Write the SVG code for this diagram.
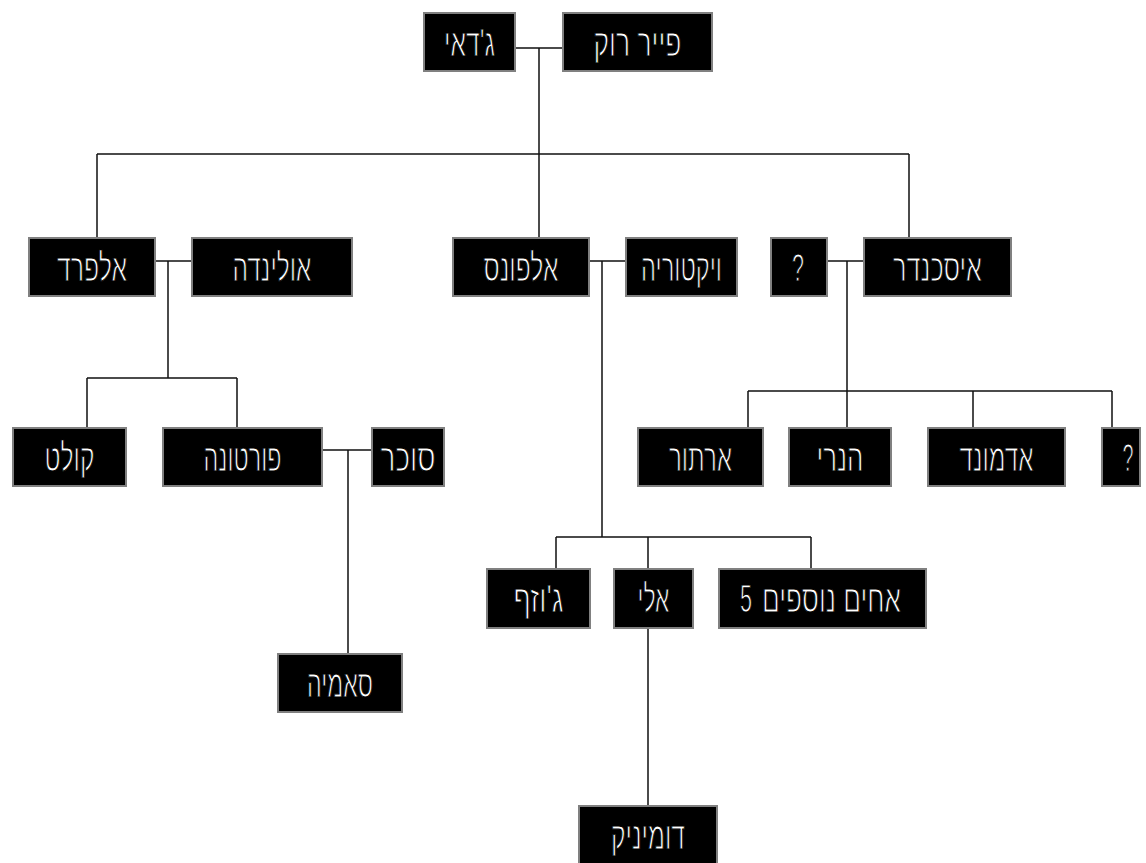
<svg xmlns="http://www.w3.org/2000/svg" width="1146" height="863" viewBox="0 0 1146 863">
<style>
.box{fill:#000;stroke:#808080;stroke-width:2}
.lbl{fill:#fff;stroke:#000;stroke-width:1.1;font-family:"Liberation Sans",sans-serif;font-size:38px;font-weight:normal;text-anchor:middle}
.ln{fill:none;stroke:#111;stroke-width:1.5}
</style>
<rect width="1146" height="863" fill="#fff"/>
<g id="connectors">
<path class="ln" d="M516,48H562M539,48V154M97,154H909M97,154V237M539,154V237M909,154V237"/>
<path class="ln" d="M156,261H191M168,261V378M87,378H237M87,378V427M237,378V427"/>
<path class="ln" d="M590,261H625M602,261V537M556,537H811M556,537V568M648,537V568M811,537V568M648,629V805"/>
<path class="ln" d="M828,261H863M847,261V427M748,391H1112M748,391V427M973,391V427M1112,391V427"/>
<path class="ln" d="M323,450H371M348,450V653"/>
</g>
<g id="n-gedai"><rect class="box" x="424" y="13" width="91" height="58"/><text class="lbl" x="469.5" y="56" textLength="51" lengthAdjust="spacingAndGlyphs">ג'דאי</text></g>
<g id="n-pierre"><rect class="box" x="563" y="13" width="149" height="58"/><text class="lbl" x="637.5" y="56" textLength="88" lengthAdjust="spacingAndGlyphs">פייר רוק</text></g>
<g id="n-alfred"><rect class="box" x="29" y="238" width="126" height="58"/><text class="lbl" x="92" y="281" textLength="70" lengthAdjust="spacingAndGlyphs">אלפרד</text></g>
<g id="n-olinda"><rect class="box" x="192" y="238" width="160" height="58"/><text class="lbl" x="272" y="281" textLength="79" lengthAdjust="spacingAndGlyphs">אולינדה</text></g>
<g id="n-alfons"><rect class="box" x="453" y="238" width="136" height="58"/><text class="lbl" x="521" y="281" textLength="75" lengthAdjust="spacingAndGlyphs">אלפונס</text></g>
<g id="n-victoria"><rect class="box" x="626" y="238" width="111" height="58"/><text class="lbl" x="681.5" y="281" textLength="81" lengthAdjust="spacingAndGlyphs">ויקטוריה</text></g>
<g id="n-q1"><rect class="box" x="771" y="238" width="56" height="58"/><text class="lbl" x="798" y="281" textLength="12" lengthAdjust="spacingAndGlyphs">?</text></g>
<g id="n-iskander"><rect class="box" x="864" y="238" width="147" height="58"/><text class="lbl" x="937.5" y="281" textLength="89" lengthAdjust="spacingAndGlyphs">איסכנדר</text></g>
<g id="n-kolet"><rect class="box" x="13" y="428" width="113" height="58"/><text class="lbl" x="69.5" y="471" textLength="50" lengthAdjust="spacingAndGlyphs">קולט</text></g>
<g id="n-fortuna"><rect class="box" x="163" y="428" width="159" height="58"/><text class="lbl" x="242.5" y="471" textLength="78" lengthAdjust="spacingAndGlyphs">פורטונה</text></g>
<g id="n-sokar"><rect class="box" x="372" y="428" width="72" height="58"/><text class="lbl" x="408" y="471" textLength="55" lengthAdjust="spacingAndGlyphs">סוכר</text></g>
<g id="n-arthur"><rect class="box" x="638" y="428" width="125" height="58"/><text class="lbl" x="700.5" y="471" textLength="63" lengthAdjust="spacingAndGlyphs">ארתור</text></g>
<g id="n-henri"><rect class="box" x="789" y="428" width="102" height="58"/><text class="lbl" x="840" y="471" textLength="47" lengthAdjust="spacingAndGlyphs">הנרי</text></g>
<g id="n-edmond"><rect class="box" x="928" y="428" width="137" height="58"/><text class="lbl" x="996.5" y="471" textLength="74" lengthAdjust="spacingAndGlyphs">אדמונד</text></g>
<g id="n-q2"><rect class="box" x="1102" y="428" width="38" height="58"/><text class="lbl" x="1128" y="471" textLength="11" lengthAdjust="spacingAndGlyphs">?</text></g>
<g id="n-joseph"><rect class="box" x="487" y="569" width="103" height="59"/><text class="lbl" x="538.5" y="612" textLength="50" lengthAdjust="spacingAndGlyphs">ג'וזף</text></g>
<g id="n-eli"><rect class="box" x="614" y="569" width="79" height="59"/><text class="lbl" x="653.5" y="612" textLength="32" lengthAdjust="spacingAndGlyphs">אלי</text></g>
<g id="n-brothers"><rect class="box" x="719" y="569" width="207" height="59"/><text class="lbl" x="746" y="612" textLength="12" lengthAdjust="spacingAndGlyphs">5</text><text class="lbl" x="831.5" y="612" textLength="139" lengthAdjust="spacingAndGlyphs">אחים נוספים</text></g>
<g id="n-samia"><rect class="box" x="278" y="654" width="124" height="58"/><text class="lbl" x="340" y="697" textLength="66" lengthAdjust="spacingAndGlyphs">סאמיה</text></g>
<g id="n-dominik"><rect class="box" x="579" y="806" width="138" height="58"/><text class="lbl" x="648" y="849" textLength="74" lengthAdjust="spacingAndGlyphs">דומיניק</text></g>
</svg>
